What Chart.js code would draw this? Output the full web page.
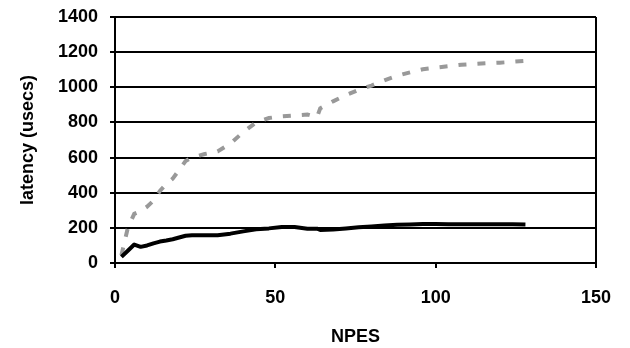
<!DOCTYPE html>
<html>
<head>
<meta charset="utf-8">
<script src="https://cdn.jsdelivr.net/npm/chart.js@4"></script>
<style>
  html, body { margin: 0; padding: 0; background: #fff; }
  #wrap { width: 630px; height: 348px; }
</style>
</head>
<body>
<div id="wrap"><canvas id="graaf" width="630" height="348"></canvas></div>
<script>
// loeme väärtused pildilt
var npes = [2, 4, 6, 8, 10, 12, 14, 16, 18, 20, 22, 24, 28, 32, 36, 40, 44, 48, 52, 56, 60, 63, 64, 68, 72, 76, 80, 84, 88, 92, 96, 100, 104, 108, 112, 116, 120, 124, 128];
var latMust = [35, 70, 105, 92, 100, 112, 122, 128, 135, 145, 155, 158, 158, 158, 167, 180, 192, 197, 205, 205, 195, 195, 188, 190, 197, 203, 208, 213, 217, 219, 222, 222, 221, 221, 220, 220, 220, 220, 219];
var latHall = [44, 200, 280, 295, 320, 355, 410, 450, 480, 530, 580, 600, 620, 635, 680, 745, 800, 825, 835, 840, 845, 830, 880, 920, 955, 985, 1010, 1040, 1065, 1085, 1103, 1112, 1120, 1128, 1133, 1137, 1140, 1145, 1150];
var xTicks = [0, 50, 100, 150];
var yTicks = [0, 200, 400, 600, 800, 1000, 1200, 1400];

function punktid(ys) {
    var p = [];
    for (var i = 0; i < npes.length; i++) {
        p.push({ x: npes[i], y: ys[i] });
    }
    return p;
}

var font = { family: "'Liberation Sans', Arial, sans-serif", size: 18, weight: 'bold' };

new Chart(document.getElementById("graaf"), {
    type: 'line',
    data: {
        datasets: [{
            data: punktid(latMust),
            borderColor: "#000000",
            borderWidth: 4,
            pointRadius: 0,
            tension: 0,
            borderJoinStyle: 'round',
            fill: false
        }, {
            data: punktid(latHall),
            borderColor: "#999999",
            borderWidth: 4,
            borderDash: [8, 11],
            pointRadius: 0,
            tension: 0,
            fill: false
        }]
    },
    options: {
        responsive: false,
        animation: false,
        layout: { padding: { top: 17, right: 34, left: 0, bottom: 0 } },
        plugins: { legend: { display: false }, tooltip: { enabled: false } },
        scales: {
            x: {
                type: 'linear',
                min: 0, max: 150,
                afterBuildTicks: function (s) { s.ticks = xTicks.map(function (v) { return { value: v }; }); },
                afterFit: function (s) { s.height = 85; },
                ticks: { color: '#000', font: font, padding: 19, maxRotation: 0, callback: function (v) { return String(v); } },
                grid: {
                    color: function (c) { return c.tick && c.tick.value === 150 ? '#000' : 'rgba(0,0,0,0)'; },
                    tickColor: '#000',
                    tickLength: 5,
                    lineWidth: 2
                },
                border: { color: '#000', width: 2 },
                title: { display: true, text: 'NPES', color: '#000', font: font, padding: { top: 0, bottom: 0 } }
            },
            y: {
                min: 0, max: 1400,
                afterBuildTicks: function (s) { s.ticks = yTicks.map(function (v) { return { value: v }; }); },
                afterFit: function (s) { s.width = 115; s.paddingTop = 0; s.paddingBottom = 0; },
                ticks: { color: '#000', font: font, padding: 12, callback: function (v) { return String(v); } },
                grid: { color: '#000', tickColor: '#000', tickLength: 5, lineWidth: 2 },
                border: { color: '#000', width: 2 },
                title: { display: true, text: 'latency (usecs)', color: '#000', font: font, padding: { top: 17, bottom: 0 } }
            }
        }
    }
});
</script>
</body>
</html>
